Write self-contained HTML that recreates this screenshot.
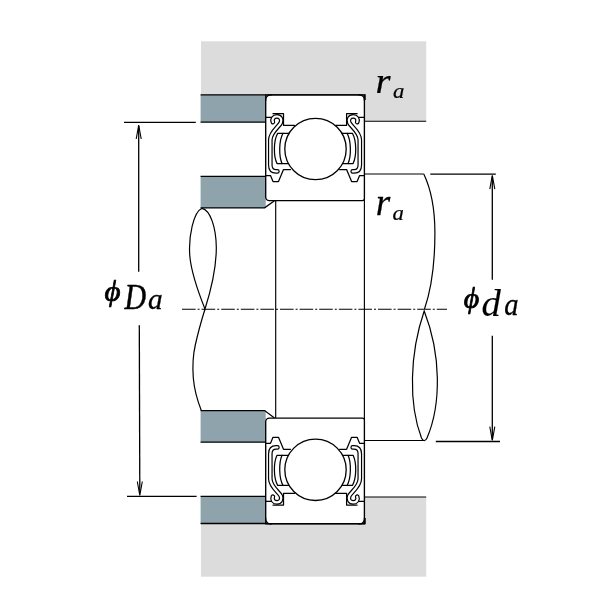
<!DOCTYPE html>
<html>
<head>
<meta charset="utf-8">
<title>Bearing abutment dimensions</title>
<style>
html,body{margin:0;padding:0;background:#fff;}
body{width:600px;height:600px;overflow:hidden;}
svg{display:block;will-change:transform;}
text{font-family:"Liberation Serif","DejaVu Serif",serif;font-style:italic;fill:#000;}
</style>
</head>
<body>
<svg width="600" height="600" viewBox="0 0 600 600">
<defs>
  <g id="side" fill="none" stroke="#000" stroke-width="1.25" stroke-linecap="round" stroke-linejoin="round">
    <path d="M265.7 117.3H271"/>
    <path d="M273 113.7H283.5V125.3H294.5"/>
    <path d="M265.7 175.5H270.5L273 181.5H278.5L283.5 169.5H290.5"/>
    <path d="M272.9 122.1C271.7 119 273.5 116.4 277 116.4C280.5 116.4 282.2 119.6 280.8 122.8C279.3 126.4 270.3 132 270.3 140V165C270.3 169.6 272.3 171.4 276 171.4H277.4" stroke-width="4.7"/>
    <path d="M272.9 122.1C271.7 119 273.5 116.4 277 116.4C280.5 116.4 282.2 119.6 280.8 122.8C279.3 126.4 270.3 132 270.3 140V165C270.3 169.6 272.3 171.4 276 171.4H277.4" stroke="#fff" stroke-width="2.3"/>
    <path d="M289 133.3H277.7C273.4 141 273.4 156 277 163.5H288.8"/>
    <path d="M283 133.3C278.8 141 278.8 156 282 163.5"/>
  </g>
  <g id="bearing">
    <path d="M270.4 95H359.7A4.7 4.7 0 0 1 364.4 99.7V198.6A2 2 0 0 1 362.4 200.6H269.3A3.600 3.600 0 0 1 265.7 197V99.7A4.7 4.7 0 0 1 270.4 95Z" fill="#fff" stroke="#000" stroke-width="1.35"/>
    <path d="M265.7 101V95H272M364.4 101V95H358" fill="none" stroke="#000" stroke-width="1.2"/>
    <use href="#side"/>
    <use href="#side" transform="translate(630.1 0) scale(-1 1)"/>
    <circle cx="315.5" cy="149" r="30.7" fill="#fff" stroke="#000" stroke-width="1.3"/>
  </g>
  <g id="arrow" fill="none" stroke="#000" stroke-width="1.1" stroke-linecap="butt">
    <path d="M-2.5 14.300L0 0.5L2.5 14.300"/>
  </g>
</defs>

<rect width="600" height="600" fill="#fff"/>

<!-- housing (grey) -->
<rect x="201" y="41.3" width="225.2" height="80" fill="#dcdcdc"/>
<rect x="201" y="497" width="225.2" height="79.7" fill="#dcdcdc"/>

<!-- spacer blocks (blue grey) -->
<g fill="#8fa3ad">
  <rect x="200.6" y="94.7" width="65.2" height="27.5"/>
  <rect x="200.6" y="176.2" width="65.2" height="31.8"/>
  <rect x="200.6" y="410.5" width="65.2" height="31.8"/>
  <rect x="200.6" y="496.2" width="65.2" height="27.5"/>
</g>
<path d="M265.9 200.7H274.5L265.9 207.2Z" fill="#fff"/>
<path d="M265.9 417.9H274.5L265.9 411.4Z" fill="#fff"/>
<g stroke="#000" stroke-width="1.3" fill="none">
  <path d="M200.6 94.9H365.1V100"/>
  <path d="M200.6 122.1H266"/>
  <path d="M200.6 176.3H266"/>
  <path d="M200.6 207.9H264.6L274.5 200.7"/>
  <path d="M200.6 410.6H264.6L274.5 417.9"/>
  <path d="M200.6 442.2H266"/>
  <path d="M200.6 496.3H266"/>
  <path d="M200.6 523.5H365.1V518"/>
</g>

<g stroke="#000" stroke-width="1.15" fill="none">
  <path d="M364.4 121.2H426.2"/>
  <path d="M364.4 497H426.2"/>
  <path d="M275.7 200.7V418"/>
  <path d="M364.4 198V421"/>
  <path d="M364.4 174H423.8"/>
  <path d="M364.4 440.5H423.8"/>
</g>

<use href="#bearing"/>
<use href="#bearing" transform="translate(0 618.8) scale(1 -1)"/>

<!-- shaft break lines -->
<g stroke="#000" stroke-width="1.2" fill="none">
  <path d="M202 208.3C193.500 212 188.300 236 189.800 256C191.500 275 199 294 205 309C211 290 216.500 268 216.300 247C216 228 210.500 210 202 208.3Z"/>
  <path d="M205 309C201 322 197.500 335 195.300 345C193 355 192.400 366 193.300 378C194.500 392 198 402 201.3 410.5"/>
  <path d="M423.8 174C429 185 434.8 205 434.9 232C435 262 431 290 424.5 309"/>
  <path d="M424.2 311C409.500 354 408.500 404 421.5 438C423 441.500 425.500 441.500 427 438C441.500 404 441 354 424.2 311Z"/>
</g>

<path d="M182 309.2H447" stroke="#000" stroke-width="1.1" fill="none" stroke-dasharray="13.6 2 2 2"/>

<g stroke="#000" stroke-width="1.3" fill="none">
  <path d="M124 122.3H195.8"/>
  <path d="M127 496.3H196.6"/>
  <path d="M138.7 126V271.7"/>
  <path d="M139.300 325.3L139.800 493"/>
  <path d="M430.3 174.1H495.8"/>
  <path d="M435.8 441.5H500"/>
  <path d="M492.3 176.5V279.7"/>
  <path d="M492.3 335.8V439.500"/>
</g>
<use href="#arrow" transform="translate(138.7 124.7)"/>
<use href="#arrow" transform="translate(139.8 495.8) scale(1 -1)"/>
<use href="#arrow" transform="translate(492.3 174.8)"/>
<use href="#arrow" transform="translate(492.3 441) scale(1 -1)"/>

<!-- labels: r a / r a / ϕ D a / ϕ d a -->
<text transform="matrix(0.3871 0 0 0.3645 375.58 93.06)" font-size="100" stroke="#000" stroke-width="0.67" stroke-linejoin="round">r</text>
<text transform="matrix(0.2279 0 0 0.2042 393.12 98.00)" font-size="100" stroke="#000" stroke-width="0.93" stroke-linejoin="round">a</text>
<text transform="matrix(0.3729 0 0 0.3882 375.63 214.57)" font-size="100" stroke="#000" stroke-width="0.66" stroke-linejoin="round">r</text>
<text transform="matrix(0.2279 0 0 0.2167 392.42 219.68)" font-size="100" stroke="#000" stroke-width="0.90" stroke-linejoin="round">a</text>
<text transform="matrix(0.3096 0 0 0.2923 104.60 301.49)" font-size="100" stroke="#000" stroke-width="2.49" stroke-linejoin="round">ϕ</text>
<text transform="matrix(0.2986 0 0 0.3626 124.52 308.98)" font-size="100" stroke="#000" stroke-width="1.36" stroke-linejoin="round">D</text>
<text transform="matrix(0.2930 0 0 0.2958 148.07 309.05)" font-size="100" stroke="#000" stroke-width="1.02" stroke-linejoin="round">a</text>
<text transform="matrix(0.2989 0 0 0.2923 463.83 308.19)" font-size="100" stroke="#000" stroke-width="2.54" stroke-linejoin="round">ϕ</text>
<text transform="matrix(0.3862 0 0 0.3721 481.42 315.75)" font-size="100" stroke="#000" stroke-width="0.40" stroke-linejoin="round">d</text>
<text transform="matrix(0.2860 0 0 0.3062 504.19 315.34)" font-size="100" stroke="#000" stroke-width="1.01" stroke-linejoin="round">a</text>
</svg>
</body>
</html>
